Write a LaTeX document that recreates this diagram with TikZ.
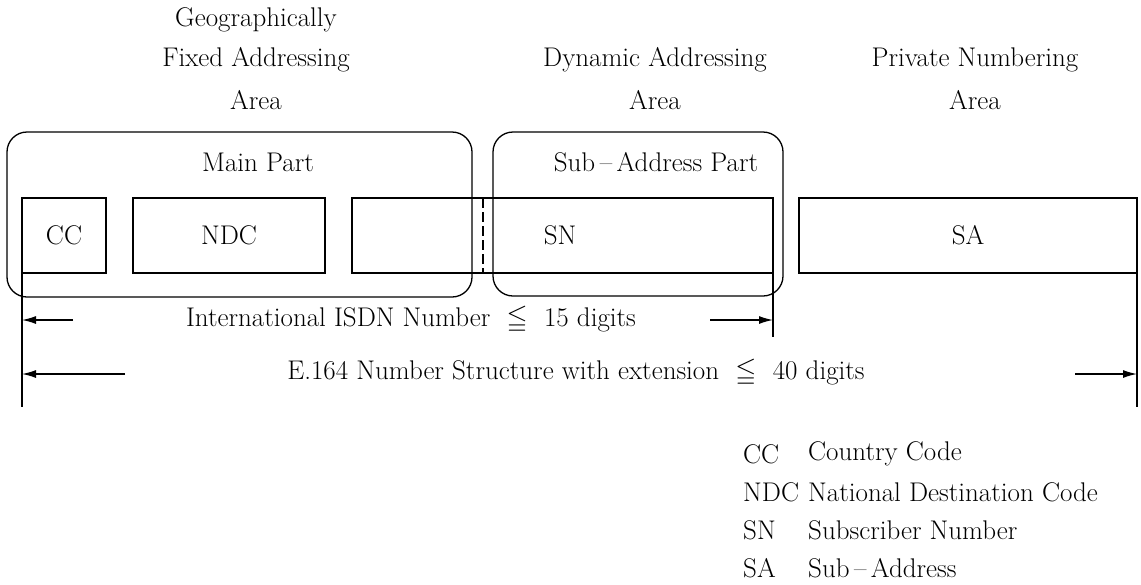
\documentclass[tikz,border=0pt]{standalone}
\usepackage{amssymb}
\usetikzlibrary{arrows.meta,calc}
\tikzset{
  fld/.style={draw, line width=1.3pt, inner sep=0pt, outer sep=0pt, minimum height=75pt},
  grp/.style={draw, line width=1.3pt, rounded corners=20pt, inner sep=0pt, outer sep=0pt},
  lbl/.style={inner sep=0pt, font=\fontsize{27}{32}\selectfont, align=center},
  tick/.style={line width=1.3pt},
  dim/.style={line width=1.3pt, -{Latex[length=14pt,width=8pt]}},
  legend/.style={lbl, anchor=west}
}
\begin{document}
\begin{tikzpicture}[x=1pt,y=-1pt]
\useasboundingbox (0,0) rectangle (1141,584);

% area headings
\node[lbl] (hgeo) at (256,20) {Geographically};
\node[lbl] (hfix) at (256,60) {Fixed Addressing};
\node[lbl] (harea1) at (256,100) {Area};
\node[lbl] (hdyn) at (655,60) {Dynamic Addressing};
\node[lbl] (harea2) at (655,100) {Area};
\node[lbl] (hpriv) at (975,60) {Private Numbering};
\node[lbl] (harea3) at (975,100) {Area};

% grouping frames
\node[grp, minimum width=465pt, minimum height=165pt] (main) at (239.5,214.5) {};
\node[grp, minimum width=290pt, minimum height=164pt] (sub) at (638,214) {};
\node[lbl] (mainlbl) at (258,162) {Main Part};
\node[lbl] (sublbl) at (656,162) {Sub\,--\,Address Part};

% number fields
\node[fld, minimum width=84pt] (cc) at (64,235.5) {};
\node[lbl] at (cc) {CC};
\node[fld, minimum width=192pt] (ndc) at (229,235.5) {};
\node[lbl] at (ndc) {NDC};
\node[fld, minimum width=421pt] (sn) at (562.5,235.5) {};
\node[lbl] (snlbl) at (560,235.5) {SN};
\node[fld, minimum width=338pt] (sa) at (968,235.5) {};
\node[lbl] at (sa) {SA};
\draw[line width=1.2pt, dash pattern=on 10pt off 4pt]
  ($(sn.north west)+(131,0)$) -- ($(sn.south west)+(131,0)$);

% extent lines
\coordinate (lb) at (22,407);
\coordinate (mb) at (773,337);
\coordinate (rb) at (1137,407);
\draw[tick] (cc.south west) -- (lb);
\draw[tick] (sn.south east) -- (mb);
\draw[tick] (sa.south east) -- (rb);

% length of the international ISDN number
\node[lbl] (isdn) at (411,320) {International ISDN Number\ \ $\leqq$\ \ 15 digits};
\coordinate (ia) at (73,320);
\coordinate (ib) at (710,320);
\draw[dim] (ia) -- (ia -| lb);
\draw[dim] (ib) -- (ib -| mb);

% length of the full number with extension
\node[lbl] (e164) at (576,373) {E.164 Number Structure with extension\ \ $\leqq$\ \ 40 digits};
\coordinate (ea) at (125,374);
\coordinate (eb) at (1075,374);
\draw[dim] (ea) -- (ea -| lb);
\draw[dim] (eb) -- (eb -| rb);

% legend
\node[legend] (k1) at (743,454) {CC};
\node[legend] (d1) at (808,454) {Country Code};
\node[legend] (k2) at (743,492) {NDC};
\node[legend] (d2) at (808,492) {National Destination Code};
\node[legend] (k3) at (743,530) {SN};
\node[legend] (d3) at (808,530) {Subscriber Number};
\node[legend] (k4) at (743,568) {SA};
\node[legend] (d4) at (808,568) {Sub\,--\,Address};
\end{tikzpicture}
\end{document}
